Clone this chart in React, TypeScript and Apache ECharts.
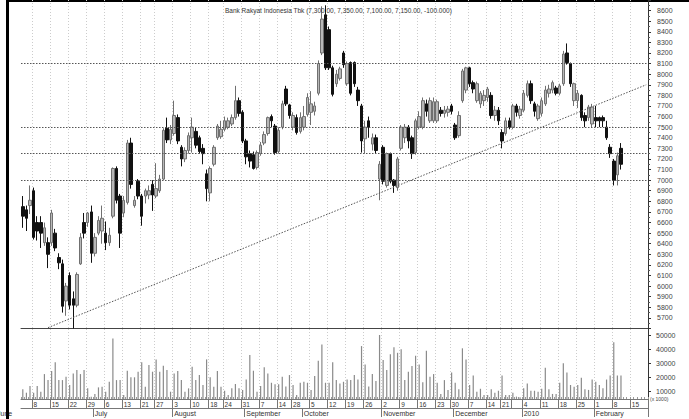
import { useEffect, useRef } from 'react';
import * as echarts from 'echarts';

const SLOT_COUNT = 174;
const categories = Array.from({ length: SLOT_COUNT }, (_, i) => String(i));

// [open, close, low, high]
const ohlc: number[][] = [
  [6750,6660,6550,6850],[6720,6640,6520,6760],[6760,6810,6680,6950],[6900,6460,6440,6930],
  [6600,6520,6430,6660],[6600,6500,6360,6660],[6410,6550,6380,6600],[6410,6300,6170,6460],
  [6410,6690,6380,6720],[6500,6360,6330,6540],[6270,6220,6160,6310],[6210,5810,5750,6250],
  [5860,6000,5720,6030],[6100,5820,5780,6130],[5880,5820,5600,5950],[5820,6110,5800,6130],
  [6210,6460,6200,6500],[6600,6500,6450,6690],[6600,6690,6560,6700],[6700,6310,6220,6760],
  [6310,6460,6280,6500],[6500,6620,6480,6660],[6520,6640,6400,6760],[6500,6410,6340,6610],
  [6410,6480,6380,6550],[6660,7110,6640,7120],[7110,6810,6780,7130],[6850,6500,6360,6870],
  [6690,6810,6650,6850],[6790,7350,6770,7380],[7350,6960,6920,7400],[6760,6810,6740,6850],
  [6990,6850,6820,7010],[6850,6660,6570,6870],[6850,6900,6780,6920],[6860,6900,6820,6950],
  [6960,6860,6710,7000],[6850,6920,6830,7160],[6900,7010,6880,7050],[7010,7470,7000,7490],
  [7490,7380,7350,7590],[7380,7480,7340,7520],[7440,7610,7420,7750],[7590,7370,7340,7620],
  [7310,7200,7130,7330],[7200,7280,7170,7310],[7280,7420,7250,7450],[7400,7500,7260,7590],
  [7460,7330,7300,7500],[7400,7270,7250,7420],[7300,7250,7150,7340],[7060,6920,6800,7100],
  [6880,7110,6800,7130],[7150,7310,7130,7330],[7400,7510,7380,7530],[7410,7480,7390,7560],
  [7480,7560,7460,7600],[7500,7560,7480,7590],[7530,7590,7510,7620],[7590,7750,7570,7890],
  [7750,7630,7600,7780],[7640,7370,7350,7660],[7370,7220,7150,7390],[7250,7180,7120,7280],
  [7240,7110,7100,7270],[7120,7260,7100,7280],[7250,7330,7230,7360],[7350,7430,7330,7460],
  [7440,7590,7420,7600],[7600,7560,7500,7620],[7510,7260,7240,7530],[7270,7470,7250,7500],
  [7500,7720,7480,7750],[7860,7720,7700,7890],[7710,7610,7580,7720],[7500,7610,7470,7640],
  [7590,7450,7430,7620],[7460,7590,7440,7640],[7500,7600,7470,7700],[7620,7780,7600,7820],
  [7640,7720,7520,7840],[7650,7700,7610,7740],[7820,8100,7800,8130],[8200,8520,8180,8640],
  [8560,8060,8040,8650],[8420,8060,8040,8450],[8060,7810,7790,8080],[7910,8000,7880,8040],
  [7960,8050,7940,8070],[8200,8090,8060,8220],[7910,8100,7890,8120],[8110,7820,7800,8120],
  [8110,7910,7880,8120],[7850,7750,7700,7880],[7700,7370,7260,7720],[7390,7500,7250,7560],
  [7560,7500,7400,7600],[7340,7400,7280,7440],[7400,7280,7250,7430],[7010,7150,6810,7180],
  [7310,6990,6960,7330],[6950,7250,6930,7260],[7250,6990,6970,7260],[7000,6950,6880,7010],
  [6930,7200,6900,7220],[7300,7500,7280,7520],[7400,7500,7350,7530],[7500,7370,7300,7520],
  [7400,7250,7200,7420],[7260,7560,7240,7580],[7500,7600,7480,7650],[7500,7750,7480,7780],
  [7720,7650,7600,7760],[7560,7750,7540,7780],[7560,7740,7540,7780],[7560,7740,7540,7760],
  [7660,7630,7600,7690],[7630,7660,7590,7700],[7640,7670,7600,7700],[7700,7650,7620,7720],
  [7520,7400,7380,7540],[7420,7610,7400,7650],[7750,8030,7730,8050],[7850,8060,7820,8070],
  [8060,7910,7880,8070],[7920,7860,7820,7940],[7750,7910,7730,7930],[7720,7820,7680,7840],
  [7750,7800,7700,7850],[7780,7860,7740,7880],[7800,7610,7580,7830],[7610,7660,7560,7700],
  [7660,7560,7520,7690],[7450,7370,7300,7480],[7440,7560,7420,7590],[7560,7500,7480,7590],
  [7500,7700,7480,7720],[7700,7640,7600,7720],[7610,7670,7580,7700],[7660,7820,7640,7850],
  [7800,7910,7780,7940],[7910,7750,7720,7940],[7720,7650,7600,7740],[7580,7700,7560,7720],
  [7630,7750,7600,7780],[7720,7850,7700,7890],[7820,7860,7780,7900],[7850,7920,7820,7940],
  [7870,7820,7800,7890],[7820,7890,7800,7910],[7910,8190,7890,8220],[8200,8110,8090,8290],
  [8100,7910,7880,8110],[7750,7910,7700,7920],[7750,7820,7680,7850],[7800,7590,7560,7810],
  [7610,7560,7500,7640],[7590,7690,7560,7710],[7530,7690,7500,7720],[7590,7560,7500,7700],
  [7590,7560,7500,7600],[7590,7560,7500,7610],[7500,7400,7380,7560],[7310,7250,7210,7340],
  [7180,7000,6950,7200],[7050,7230,6950,7260],[7300,7150,7100,7350],
];

const volumes: number[] = [
  11200,8800,13600,8800,13600,9500,22100,17800,24300,30500,17800,17800,20200,14300,22600,25000,
  22100,25000,11900,5900,7900,12600,13000,9500,16600,47600,17800,17800,7100,24500,19800,19800,
  23800,30500,13000,28600,23800,32600,23800,28100,25000,9500,22600,24300,17800,9500,11900,27400,
  17800,21400,14300,32600,19800,13000,24300,13000,10200,7100,11900,15000,11900,10800,18200,35700,
  24500,9500,13600,26900,22600,15900,14800,14800,20200,13200,21400,14300,7100,15900,16600,15900,
  10800,20700,31600,43300,15900,15900,30500,17800,15400,16600,18200,17800,21400,18200,42100,29000,
  13200,22100,17100,50000,32100,25000,36200,41200,37300,39800,17800,23800,27900,35200,29000,16300,
  38800,20200,22100,15900,7900,17800,10800,23300,15900,11200,40500,32600,14300,21000,9500,11600,
  7100,7100,11200,8800,10200,21000,7100,7100,8800,6000,5500,11900,15400,10200,10200,9500,
  11600,26600,11200,7900,7900,15900,29800,23300,14300,13000,14300,19500,11200,10800,18200,16600,
  14300,11900,18200,21000,44800,21000,21000,
];

const weekTicks: [number, string][] = [
  [3,'8'],[8,'15'],[13,'22'],[18,'29'],[23,'6'],[28,'13'],[33,'21'],[37,'27'],[42,'3'],[47,'10'],
  [52,'18'],[56,'24'],[61,'31'],[66,'7'],[71,'14'],[75,'28'],[80,'5'],[85,'12'],[90,'19'],[95,'26'],
  [100,'2'],[105,'9'],[110,'16'],[115,'23'],[119,'30'],[124,'7'],[129,'14'],[133,'21'],[136,''],
  [139,'4'],[144,'11'],[149,'18'],[154,'25'],[159,'1'],[164,'8'],[169,'15'],
];

const monthTicks: [number, string][] = [
  [20,'July'],[42,'August'],[62,'September'],[78,'October'],[100,'November'],
  [120,'December'],[139,'2010'],[159,'February'],
];

const priceLevels = [8100, 7500, 7250, 7000];
const trendStart: [number, number] = [7, 5608];
const trendEnd: [number, number] = [173, 7900];
const volumeTickValues = [10000, 20000, 30000, 40000, 50000];

const TITLE = 'Bank Rakyat Indonesia Tbk (7,300.00, 7,350.00, 7,100.00, 7,150.00, -100.000)';

export default function App() {
  const ref = useRef<HTMLDivElement>(null);
  useEffect(() => {
    if (!ref.current) return;
    const chart = echarts.init(ref.current, undefined, { renderer: 'svg' });
    const weekMap = new Map(weekTicks);
    const monthMap = new Map(monthTicks);
    const isWeek = (i: number) => weekMap.has(i);
    const isMonth = (i: number) => monthMap.has(i);
    const vSplit = {
      show: true,
      interval: (i: number) => isWeek(i),
      lineStyle: { color: '#cccccc', type: [1, 2] as any, width: 1 },
    };
    const font = 'Liberation Sans, Arial, sans-serif';
    chart.setOption({
      animation: false,
      backgroundColor: '#ffffff',
      textStyle: { fontFamily: font },
      title: {
        text: TITLE,
        left: 220,
        top: 2,
        textStyle: { fontSize: 6.5, fontWeight: 'normal', color: '#333', fontFamily: font },
      },
      grid: [
        { left: 21, right: 41, top: 0, height: 328.5 },
        { left: 21, right: 41, top: 329, height: 70 },
      ],
      xAxis: [
        {
          type: 'category', gridIndex: 0, position: 'bottom', data: categories, boundaryGap: true,
          axisLine: { show: true, lineStyle: { color: '#444' } },
          axisTick: { show: false }, axisLabel: { show: false },
          splitLine: vSplit,
        },
        {
          type: 'category', gridIndex: 1, position: 'bottom', data: categories, boundaryGap: true,
          axisLine: { show: true, lineStyle: { color: '#777' } },
          axisTick: { show: true, interval: 0, inside: true, length: 2, lineStyle: { color: '#999' } },
          axisLabel: { show: false },
          splitLine: vSplit,
        },
        {
          type: 'category', gridIndex: 1, position: 'bottom', data: categories, boundaryGap: true,
          axisLine: { show: false },
          axisTick: { show: true, interval: (i: number) => isWeek(i), length: 9, lineStyle: { color: '#777' } },
          axisLabel: {
            show: true, interval: (i: number) => isWeek(i),
            formatter: (v: string) => weekMap.get(Number(v)) ?? '',
            align: 'left', margin: 2, fontSize: 6.5, color: '#333', fontFamily: font,
          },
          splitLine: { show: false },
        },
        {
          type: 'category', gridIndex: 1, position: 'bottom', data: categories, boundaryGap: true, offset: 9,
          axisLine: { show: true, lineStyle: { color: '#777' } },
          axisTick: { show: true, interval: (i: number) => isMonth(i), length: 9, lineStyle: { color: '#777' } },
          axisLabel: {
            show: true, interval: (i: number) => isMonth(i),
            formatter: (v: string) => monthMap.get(Number(v)) ?? '',
            align: 'left', margin: 2, fontSize: 7, color: '#333', fontFamily: font,
          },
          splitLine: { show: false },
        },
      ],
      yAxis: [
        {
          type: 'value', gridIndex: 0, position: 'right', min: 5600, max: 8700, interval: 100,
          axisLine: { show: true, lineStyle: { color: '#333' } },
          axisTick: { show: true, length: 3, lineStyle: { color: '#333' } },
          minorTick: { show: true, splitNumber: 2, length: 2, lineStyle: { color: '#555' } },
          axisLabel: {
            formatter: (v: number) => (v < 5700 || v > 8600 ? '' : String(v)),
            fontSize: 7, color: '#444', margin: 9, fontFamily: font,
          },
          splitLine: { show: false },
        },
        {
          type: 'value', gridIndex: 1, position: 'right', min: 4300, max: 54300,
          axisLine: { show: true, lineStyle: { color: '#333' } },
          axisTick: { show: true, length: 3, customValues: volumeTickValues, lineStyle: { color: '#333' } },
          axisLabel: {
            customValues: volumeTickValues, formatter: (v: number) => String(v),
            fontSize: 7, color: '#444', margin: 8, fontFamily: font,
          },
          splitLine: { show: false },
        },
      ],
      series: [
        {
          type: 'candlestick', xAxisIndex: 0, yAxisIndex: 0, data: ohlc, barWidth: 3,
          itemStyle: { color: '#b8b8b8', color0: '#111', borderColor: '#707070', borderColor0: '#111', borderWidth: 1 },
          markLine: {
            silent: true, symbol: ['none', 'none'], label: { show: false },
            lineStyle: { color: '#555', type: [1.5, 1.5], width: 1 },
            emphasis: { disabled: true },
            data: [
              ...priceLevels.map((v) => ({ yAxis: v })),
              [
                { coord: [String(trendStart[0]), trendStart[1]] },
                { coord: [String(trendEnd[0]), trendEnd[1]] },
              ],
            ],
          },
        },
        {
          type: 'bar', xAxisIndex: 1, yAxisIndex: 1, data: volumes, barWidth: 1.2,
          itemStyle: { color: '#8a8a8a' },
        },
      ],
      graphic: [
        { type: 'text', x: -3, y: 410, style: { text: 'June', fontSize: 7, fill: '#333', fontFamily: font } },
        { type: 'text', x: 650, y: 396, style: { text: '(x 1000)', fontSize: 5, fill: '#444', fontFamily: font } },
        { type: 'rect', shape: { x: 6, y: 0, width: 3, height: 419 }, style: { fill: '#000' } },
        { type: 'rect', shape: { x: 6, y: 0, width: 683, height: 2 }, style: { fill: '#000' } },
      ],
    });
    return () => chart.dispose();
  }, []);
  return <div ref={ref} style={{ width: 689, height: 419, position: 'absolute', left: 0, top: 0 }} />;
}
